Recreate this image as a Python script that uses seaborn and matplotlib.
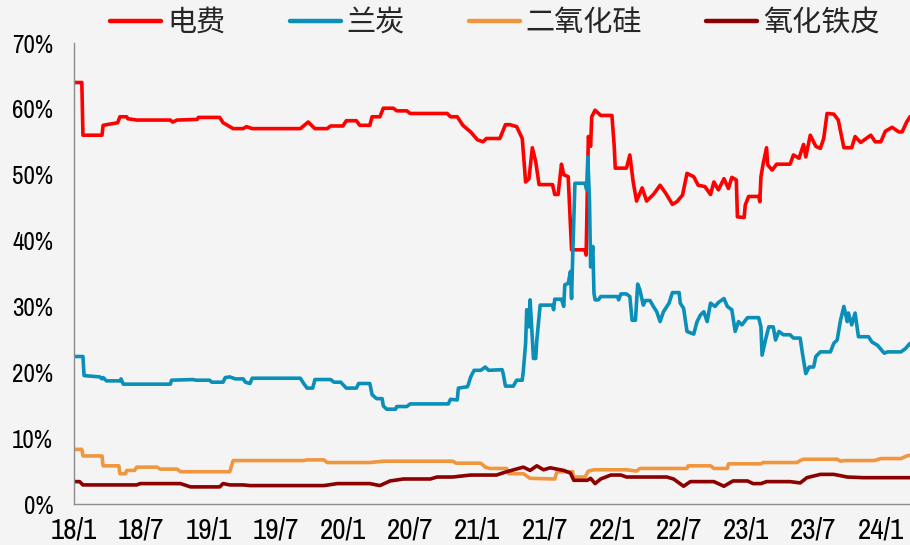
import matplotlib
matplotlib.use("Agg")
import matplotlib.pyplot as plt
import seaborn as sns
import pandas as pd

# Time axis: months elapsed since January 2018
tick_labels = ["18/1", "18/7", "19/1", "19/7", "20/1", "20/7", "21/1",
               "21/7", "22/1", "22/7", "23/1", "23/7", "24/1"]
series_names = ["电费", "兰炭", "二氧化硅", "氧化铁皮"]

# 电费 share of cost (%)
power_t = [0.0, 0.7, 0.8, 2.5, 2.6, 3.9, 4.1, 4.7, 4.8, 5.6, 8.6, 8.8, 9.2, 11.0, 11.1,
           13.0, 13.3, 14.2, 15.1, 15.4, 15.9, 20.2, 20.9, 21.5, 22.6, 22.9, 24.0, 24.3,
           25.2, 25.5, 26.4, 26.6, 27.3, 27.6, 28.5, 28.8, 29.7, 30.0, 33.3, 33.6, 34.2,
           34.7, 35.4, 36.0, 36.5, 36.8, 38.0, 38.5, 38.9, 39.5, 40.0, 40.3, 40.6, 40.9,
           41.2, 41.5, 42.7, 42.9, 43.2, 43.5, 43.7, 44.1, 44.4, 45.6, 45.7, 45.9, 46.1,
           46.2, 46.5, 47.0, 48.0, 48.2, 48.3, 49.3, 49.6, 49.9, 50.2, 50.7, 51.1, 51.7,
           52.3, 52.8, 53.4, 53.8, 54.3, 54.7, 55.3, 55.7, 56.3, 56.8, 57.1, 57.5, 58.0,
           58.4, 58.7, 59.1, 59.2, 59.8, 59.9, 60.2, 61.1, 61.2, 61.3, 61.5, 61.8, 61.9,
           62.3, 62.7, 63.9, 64.2, 64.7, 65.1, 65.3, 65.7, 66.2, 66.6, 66.9, 67.2, 67.8,
           68.2, 68.7, 69.4, 69.7, 70.2, 71.1, 71.5, 72.0, 72.4, 73.0, 73.6, 73.9, 74.3,
           74.6]
power_v = [64.0, 64.0, 56.0, 56.0, 57.5, 57.9, 58.8, 58.8, 58.5, 58.3, 58.3, 58.0, 58.3,
           58.4, 58.7, 58.7, 57.9, 57.0, 57.0, 57.3, 57.0, 57.0, 58.0, 57.0, 57.0, 57.4,
           57.4, 58.2, 58.2, 57.5, 57.5, 58.8, 58.8, 60.1, 60.1, 59.7, 59.7, 59.3, 59.3,
           58.8, 58.8, 57.5, 56.5, 55.3, 55.0, 55.5, 55.5, 57.6, 57.6, 57.3, 55.5, 48.9,
           49.4, 54.1, 52.0, 48.5, 48.5, 47.0, 47.0, 51.6, 50.0, 49.7, 38.6, 38.6, 37.8,
           55.8, 54.3, 58.8, 59.8, 59.0, 59.0, 54.5, 51.0, 51.0, 53.0, 48.9, 46.0, 48.0,
           46.0, 47.0, 48.4, 47.2, 45.5, 45.9, 46.9, 50.2, 49.7, 48.4, 48.2, 47.0, 48.9,
           47.7, 49.4, 47.9, 49.6, 49.2, 43.6, 43.5, 45.4, 46.7, 46.7, 45.9, 49.7, 51.7,
           54.1, 51.5, 50.7, 51.6, 51.6, 53.0, 52.5, 54.6, 52.7, 56.0, 54.3, 54.0, 55.5,
           59.3, 59.2, 58.3, 54.1, 54.1, 55.8, 54.9, 56.0, 55.0, 55.0, 56.6, 57.2, 56.5,
           56.5, 58.0, 58.8]

# 兰炭 share of cost (%)
coke_t = [0.0, 0.8, 0.9, 2.3, 2.5, 2.6, 2.9, 4.1, 4.2, 4.4, 8.6, 8.7, 10.6, 10.9, 12.1,
          12.3, 13.3, 13.5, 13.9, 14.4, 15.1, 15.3, 15.7, 15.9, 20.2, 20.5, 20.8, 21.3,
          21.5, 22.9, 23.2, 23.8, 24.3, 25.2, 25.4, 26.4, 26.6, 27.0, 27.5, 27.6, 27.9,
          28.7, 28.8, 29.7, 30.0, 33.4, 33.6, 34.2, 34.3, 35.1, 35.2, 35.4, 35.7, 36.3,
          36.7, 37.0, 38.2, 38.3, 38.5, 39.2, 39.5, 40.0, 40.1, 40.3, 40.4, 40.6, 40.7,
          40.9, 41.0, 41.2, 41.3, 41.6, 42.7, 42.8, 42.9, 43.5, 43.7, 43.8, 44.1, 44.3,
          44.4, 44.5, 44.7, 45.6, 45.75, 45.85, 46.0, 46.1, 46.3, 46.4, 46.5, 46.8, 47.0,
          48.5, 48.6, 48.8, 49.3, 49.6, 49.8, 50.1, 50.3, 50.5, 50.8, 51.0, 51.4, 51.7,
          52.0, 52.3, 52.6, 53.1, 53.4, 54.0, 54.1, 54.4, 54.7, 55.3, 55.6, 55.9, 56.2,
          56.5, 56.8, 57.2, 57.5, 58.0, 58.3, 58.7, 59.0, 59.3, 59.6, 60.1, 61.1, 61.3,
          61.4, 61.7, 62.0, 62.4, 62.6, 62.9, 63.3, 63.9, 64.2, 64.8, 65.0, 65.3, 65.6,
          66.0, 66.2, 66.6, 67.5, 67.8, 68.1, 68.4, 68.7, 69.0, 69.1, 69.4, 69.7, 70.0,
          70.9, 71.2, 71.7, 72.3, 72.6, 73.8, 74.2, 74.6]
coke_v = [22.4, 22.4, 19.5, 19.3, 19.0, 19.2, 18.7, 18.7, 19.0, 18.2, 18.2, 18.8, 18.9,
          18.8, 18.8, 18.5, 18.5, 19.2, 19.3, 19.0, 19.0, 18.5, 18.3, 19.1, 19.1, 18.3,
          17.6, 17.6, 18.9, 18.9, 18.5, 18.5, 17.6, 17.6, 18.3, 18.3, 16.6, 16.0, 16.0,
          14.9, 14.4, 14.4, 14.8, 14.8, 15.2, 15.2, 15.9, 15.8, 17.6, 17.8, 18.2, 19.3,
          20.3, 20.3, 20.8, 20.3, 20.4, 19.8, 17.9, 17.9, 18.8, 18.8, 20.3, 24.4, 29.5,
          26.9, 31.0, 24.9, 22.1, 22.1, 24.9, 30.2, 30.2, 29.5, 31.1, 31.1, 30.0, 33.3,
          33.5, 35.3, 31.2, 37.5, 48.7, 48.7, 47.7, 52.7, 46.0, 36.0, 39.1, 32.0, 31.0,
          31.0, 31.5, 31.5, 31.0, 31.9, 31.9, 31.5, 27.9, 27.9, 33.4, 32.5, 30.2, 30.9,
          30.9, 30.0, 29.2, 27.7, 29.2, 30.5, 32.1, 32.1, 30.5, 29.7, 26.2, 25.8, 27.7,
          28.7, 29.2, 27.7, 30.5, 30.0, 30.6, 31.2, 30.0, 29.5, 26.2, 27.7, 27.2, 28.3,
          28.3, 26.9, 22.6, 24.9, 26.9, 26.9, 24.9, 26.2, 25.7, 25.7, 25.2, 25.2, 22.9,
          19.8, 20.8, 20.8, 22.4, 23.1, 23.1, 24.4, 24.9, 27.9, 30.0, 27.7, 29.0, 27.2,
          29.0, 25.4, 25.4, 24.6, 24.1, 22.9, 23.1, 23.1, 23.6, 24.4]

# 二氧化硅 share of cost (%)
silica_t = [0.0, 0.7, 0.8, 2.5, 2.6, 4.0, 4.1, 4.6, 4.7, 5.4, 5.6, 7.4, 7.7, 9.2, 9.5,
            13.9, 14.2, 20.5, 20.8, 22.3, 22.6, 26.4, 27.6, 33.8, 34.1, 36.3, 36.7, 37.1,
            38.6, 38.8, 40.1, 40.7, 42.9, 43.1, 44.5, 44.55, 45.6, 45.9, 46.4, 49.3, 50.2,
            50.5, 54.7, 54.8, 56.8, 57.1, 58.3, 58.4, 61.3, 61.5, 64.5, 64.8, 65.1, 68.1,
            68.4, 68.7, 71.4, 72.0, 73.8, 74.3, 74.6]
silica_v = [8.3, 8.3, 7.3, 7.3, 5.8, 5.8, 4.6, 4.6, 5.1, 5.1, 5.6, 5.6, 5.3, 5.3, 4.9,
            4.9, 6.6, 6.6, 6.7, 6.7, 6.3, 6.3, 6.5, 6.5, 6.2, 6.2, 5.6, 5.4, 5.4, 4.6,
            4.6, 3.9, 3.8, 4.9, 4.9, 4.1, 4.1, 5.0, 5.2, 5.2, 5.0, 5.4, 5.4, 5.8, 5.8,
            5.4, 5.4, 6.1, 6.1, 6.3, 6.3, 6.6, 6.8, 6.8, 6.5, 6.6, 6.6, 6.9, 6.9, 7.3,
            7.4]

# 氧化铁皮 share of cost (%)
scale_t = [0.0, 0.5, 0.8, 5.6, 5.9, 9.5, 10.4, 13.0, 13.3, 13.9, 15.1, 15.7, 22.3, 23.5,
           26.4, 27.3, 28.2, 29.4, 31.8, 32.4, 33.8, 35.4, 37.7, 38.6, 40.1, 40.7, 41.3,
           41.9, 42.5, 43.7, 44.3, 44.6, 45.8, 46.1, 46.5, 47.0, 47.9, 48.8, 49.3, 52.9,
           53.5, 54.4, 55.0, 57.1, 58.0, 58.8, 60.1, 60.6, 61.3, 61.8, 63.9, 64.8, 65.4,
           66.6, 67.8, 69.0, 70.4, 74.6]
scale_v = [3.4, 3.4, 2.9, 2.9, 3.1, 3.1, 2.6, 2.6, 3.1, 2.9, 2.9, 2.8, 2.8, 3.1, 3.1,
           2.8, 3.5, 3.8, 3.8, 4.1, 4.1, 4.4, 4.4, 4.9, 5.6, 5.1, 5.8, 5.2, 5.5, 5.1,
           4.7, 3.6, 3.6, 3.9, 3.1, 3.8, 4.4, 4.4, 4.1, 4.1, 3.8, 2.7, 3.4, 3.4, 2.7,
           3.5, 3.5, 3.1, 3.1, 3.4, 3.4, 3.2, 4.0, 4.5, 4.5, 4.1, 4.0, 4.0]

colors = {"电费": "#FF0000", "兰炭": "#0A8FB8", "二氧化硅": "#F0963E", "氧化铁皮": "#8B0000"}

frames = []
for name, t, v in zip(series_names,
                      [power_t, coke_t, silica_t, scale_t],
                      [power_v, coke_v, silica_v, scale_v]):
    frames.append(pd.DataFrame({"month": t, "share": v, "item": name}))
df = pd.concat(frames, ignore_index=True)

bg = "#F4F4F4"
sns.set_style("white", {"axes.facecolor": bg, "figure.facecolor": bg})
plt.rcParams["font.family"] = ["Archivo Narrow", "Noto Sans CJK SC", "DejaVu Sans"]

fig = plt.figure(figsize=(9.10, 5.45), dpi=100)
ax = fig.add_axes([0.0813, 0.0752, 0.9187, 0.8459])

sns.lineplot(data=df, x="month", y="share", hue="item", hue_order=series_names,
             palette=colors, sort=False, estimator=None, linewidth=2.6, ax=ax)

ax.set_xlim(0, 74.6)
ax.set_ylim(0, 70)
ax.set_xticks(range(0, 73, 6))
ax.set_xticklabels(tick_labels)
ax.set_yticks(range(0, 71, 10))
ax.set_yticklabels([f"{v}%" for v in range(0, 71, 10)])
ax.set_xlabel("")
ax.set_ylabel("")

for side in ("top", "right"):
    ax.spines[side].set_visible(False)
for side in ("left", "bottom"):
    ax.spines[side].set_color("#8C8C8C")
    ax.spines[side].set_linewidth(1.0)
ax.tick_params(axis="both", direction="out", length=5, width=1.0, color="#8C8C8C",
               labelcolor="#000000")
ax.tick_params(axis="y", labelsize=18, pad=10)
ax.tick_params(axis="x", labelsize=21, pad=4)

handles, labels = ax.get_legend_handles_labels()
ax.get_legend().remove()
for h in handles:
    h.set_linewidth(3.2)
fig.legend(handles, labels, loc="center", bbox_to_anchor=(0.544, 0.958), ncol=4,
           frameon=False, handlelength=1.75, handletextpad=0.2, columnspacing=2.2,
           prop={"family": ["Noto Sans CJK SC"], "size": 21})

fig.savefig("out.png", dpi=100, facecolor=bg)
